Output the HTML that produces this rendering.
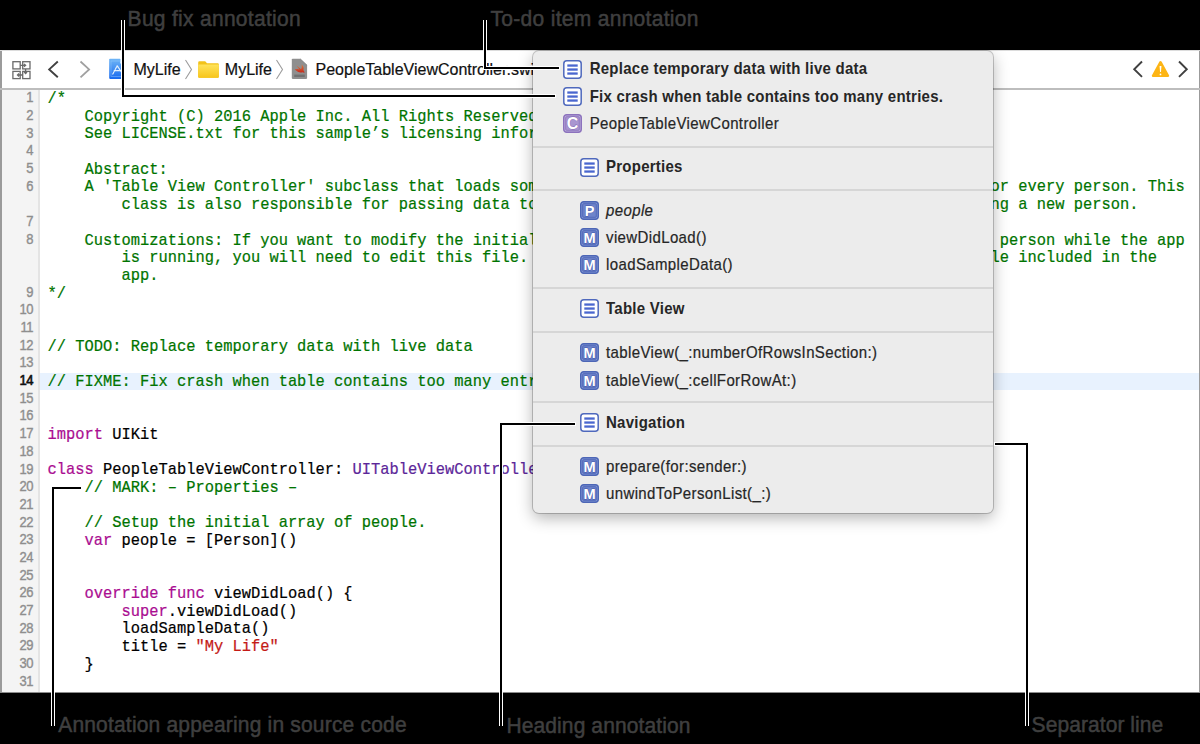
<!DOCTYPE html>
<html><head><meta charset="utf-8">
<style>
html,body{margin:0;padding:0;}
body{width:1200px;height:744px;overflow:hidden;background:#000;position:relative;font-family:"Liberation Sans",sans-serif;}
.abs{position:absolute;}
#win{position:absolute;left:0;top:50px;width:1200px;height:642px;background:#fff;overflow:hidden;}
#lb{position:absolute;left:0;top:50px;width:1.5px;height:642px;background:#9b9b9b;}
#rb{position:absolute;left:1198.5px;top:50px;width:1.5px;height:642px;background:#9b9b9b;}
#tbtop{position:absolute;left:0;top:50px;width:1200px;height:1px;background:#dcdcdc;}
#tbbot{position:absolute;left:0;top:88.2px;width:1200px;height:1.8px;background:#bdbdbd;}
#gutter{position:absolute;left:1.5px;top:90px;width:36.7px;height:602px;background:#f4f4f4;}
#gutb{position:absolute;left:38.2px;top:90px;width:1.4px;height:602px;background:#e4e4e4;}
#curline{position:absolute;left:39.6px;top:373px;width:1159px;height:17px;background:#e8f2fe;}
.row{position:absolute;left:47.5px;height:17.676px;line-height:17.676px;font-family:"Liberation Mono",monospace;font-size:15.41px;white-space:pre;transform:scaleY(1.1);transform-origin:0 13px;-webkit-text-stroke:0.2px currentColor;margin-top:0.9px;}
.ln{position:absolute;left:1.5px;width:31.5px;-webkit-text-stroke:0.35px currentColor;transform:scaleY(1.08);transform-origin:0 13px;text-align:right;height:17.676px;line-height:17.676px;font-size:13px;letter-spacing:-0.5px;color:#8e8e8e;margin-top:-0.9px;}
.ln.cur{color:#111;-webkit-text-stroke:0.6px #111;}
.tb{position:absolute;font-size:16px;color:#111;line-height:19px;-webkit-text-stroke:0.2px #111;}
#pop{position:absolute;left:532.6px;top:51.2px;width:460.8px;height:461.8px;background:#ececec;border-radius:6px;box-shadow:0 0 0 1px rgba(0,0,0,0.2),0 5px 16px rgba(0,0,0,0.3);}
.sep{position:absolute;left:533px;width:460px;height:2px;background:#d6d6d6;}
.pi{position:absolute;font-size:15px;letter-spacing:0.38px;color:#262626;line-height:19px;white-space:pre;transform:scaleY(1.06);transform-origin:0 14.46px;-webkit-text-stroke:0.2px #262626;}
.pi.b{font-weight:bold;letter-spacing:0.25px;-webkit-text-stroke:0;}
.pi.i{font-style:italic;}
.ic{position:absolute;width:19px;height:19px;}
.lab{position:absolute;font-size:21px;color:#3f3f3f;white-space:pre;line-height:24px;transform:scaleY(1.02);transform-origin:0 19.94px;-webkit-text-stroke:0.5px #3f3f3f;}
.al{position:absolute;background:#000;}
.aw{position:absolute;background:#fff;}
</style></head><body>
<div id="win"></div>
<div id="lb"></div><div id="rb"></div>
<div id="tbtop"></div>
<div class="abs" style="left:0;top:692px;width:1200px;height:1px;background:#8c8c8c"></div>
<div id="tbbot"></div>
<div id="gutter"></div>
<div class="ln" style="top:90.20px">1</div>
<div class="ln" style="top:107.88px">2</div>
<div class="ln" style="top:125.55px">3</div>
<div class="ln" style="top:143.23px">4</div>
<div class="ln" style="top:160.90px">5</div>
<div class="ln" style="top:178.58px">6</div>
<div class="ln" style="top:213.93px">7</div>
<div class="ln" style="top:231.61px">8</div>
<div class="ln" style="top:284.64px">9</div>
<div class="ln" style="top:302.31px">10</div>
<div class="ln" style="top:319.99px">11</div>
<div class="ln" style="top:337.66px">12</div>
<div class="ln" style="top:355.34px">13</div>
<div class="ln cur" style="top:373.02px">14</div>
<div class="ln" style="top:390.69px">15</div>
<div class="ln" style="top:408.37px">16</div>
<div class="ln" style="top:426.04px">17</div>
<div class="ln" style="top:443.72px">18</div>
<div class="ln" style="top:461.40px">19</div>
<div class="ln" style="top:479.07px">20</div>
<div class="ln" style="top:496.75px">21</div>
<div class="ln" style="top:514.42px">22</div>
<div class="ln" style="top:532.10px">23</div>
<div class="ln" style="top:549.78px">24</div>
<div class="ln" style="top:567.45px">25</div>
<div class="ln" style="top:585.13px">26</div>
<div class="ln" style="top:602.80px">27</div>
<div class="ln" style="top:620.48px">28</div>
<div class="ln" style="top:638.16px">29</div>
<div class="ln" style="top:655.83px">30</div>
<div class="ln" style="top:673.51px">31</div>
<div id="gutb"></div>
<div id="curline"></div>
<div class="row" style="top:90.20px"><span style="color:#007400">/*</span></div>
<div class="row" style="top:107.88px"><span style="color:#007400">    Copyright (C) 2016 Apple Inc. All Rights Reserved.</span></div>
<div class="row" style="top:125.55px"><span style="color:#007400">    See LICENSE.txt for this sample’s licensing information</span></div>
<div class="row" style="top:143.23px"></div>
<div class="row" style="top:160.90px"><span style="color:#007400">    Abstract:</span></div>
<div class="row" style="top:178.58px"><span style="color:#007400">    A &#x27;Table View Controller&#x27; subclass that loads some sample data and displays a table view cell f anor every person. This</span></div>
<div class="row" style="top:196.26px"><span style="color:#007400">        class is also responsible for passing data to the detail view and for addi and displays a tablng a new person.</span></div>
<div class="row" style="top:213.93px"></div>
<div class="row" style="top:231.61px"><span style="color:#007400">    Customizations: If you want to modify the initial data, or add a and displays a table view cell f  person while the app</span></div>
<div class="row" style="top:249.28px"><span style="color:#007400">        is running, you will need to edit this file. See the README fi and displays a table view cell le included in the</span></div>
<div class="row" style="top:266.96px"><span style="color:#007400">        app.</span></div>
<div class="row" style="top:284.64px"><span style="color:#007400">*/</span></div>
<div class="row" style="top:302.31px"></div>
<div class="row" style="top:319.99px"></div>
<div class="row" style="top:337.66px"><span style="color:#007400">// TODO: Replace temporary data with live data</span></div>
<div class="row" style="top:355.34px"></div>
<div class="row" style="top:373.02px"><span style="color:#007400">// FIXME: Fix crash when table contains too many entries.</span></div>
<div class="row" style="top:390.69px"></div>
<div class="row" style="top:408.37px"></div>
<div class="row" style="top:426.04px"><span style="color:#aa0d91">import</span><span style="color:#000"> UIKit</span></div>
<div class="row" style="top:443.72px"></div>
<div class="row" style="top:461.40px"><span style="color:#aa0d91">class</span><span style="color:#000"> PeopleTableViewController: </span><span style="color:#5c2699">UITableViewController</span><span style="color:#000"> {</span></div>
<div class="row" style="top:479.07px"><span style="color:#007400">    // MARK: – Properties –</span></div>
<div class="row" style="top:496.75px"></div>
<div class="row" style="top:514.42px"><span style="color:#007400">    // Setup the initial array of people.</span></div>
<div class="row" style="top:532.10px"><span style="color:#000">    </span><span style="color:#aa0d91">var</span><span style="color:#000"> people = [Person]()</span></div>
<div class="row" style="top:549.78px"></div>
<div class="row" style="top:567.45px"></div>
<div class="row" style="top:585.13px"><span style="color:#000">    </span><span style="color:#aa0d91">override</span><span style="color:#000"> </span><span style="color:#aa0d91">func</span><span style="color:#000"> viewDidLoad() {</span></div>
<div class="row" style="top:602.80px"><span style="color:#000">        </span><span style="color:#aa0d91">super</span><span style="color:#000">.viewDidLoad()</span></div>
<div class="row" style="top:620.48px"><span style="color:#000">        loadSampleData()</span></div>
<div class="row" style="top:638.16px"><span style="color:#000">        title = </span><span style="color:#c41a16">&quot;My Life&quot;</span></div>
<div class="row" style="top:655.83px"><span style="color:#000">    }</span></div>
<div class="row" style="top:673.51px"></div>

<!-- toolbar -->
<svg class="abs" style="left:11px;top:60px" width="20" height="20" viewBox="0 0 20 20">
 <g fill="none" stroke="#6a6a6a" stroke-width="1.3">
  <rect x="1.9" y="1.7" width="7.3" height="7.2"/>
  <rect x="11.7" y="1.7" width="7.3" height="7.2"/>
  <rect x="1.9" y="11.4" width="7.3" height="7.2"/>
  <rect x="11.7" y="11.4" width="7.3" height="7.2"/>
  <path d="M9.2 5.3H14.5M13 3.9l1.6 1.4-1.6 1.4"/>
  <path d="M14.6 8.9V13.4M13.2 12l1.4 1.6 1.4-1.6"/>
  <path d="M11.7 15H6.6M8 13.6l-1.5 1.4 1.5 1.4"/>
 </g>
</svg>
<svg class="abs" style="left:47px;top:60px" width="14" height="19" viewBox="0 0 14 19"><path d="M10.8 1.5L2.2 9.4l8.6 7.9" fill="none" stroke="#404040" stroke-width="1.9"/></svg>
<svg class="abs" style="left:78px;top:60px" width="14" height="19" viewBox="0 0 14 19"><path d="M2.5 1.5l8.6 7.9-8.6 7.9" fill="none" stroke="#a0a0a0" stroke-width="1.8"/></svg>
<svg class="abs" style="left:108px;top:58px" width="18" height="22" viewBox="0 0 18 22">
 <defs><linearGradient id="ag" x1="0" y1="0" x2="0" y2="1"><stop offset="0" stop-color="#6fb6f6"/><stop offset="1" stop-color="#1769ef"/></linearGradient></defs>
 <path d="M1.2 1.6Q1.2 0.8 2 0.8H12L16.8 5.6V20.1Q16.8 20.9 16 20.9H2Q1.2 20.9 1.2 20.1Z" fill="url(#ag)"/>
 <path d="M12 0.8V5.6H16.8Z" fill="#cfe6fb"/>
 <rect x="3" y="3" width="12" height="15.5" fill="none" stroke="#9fd0fb" stroke-width="0.7" opacity="0.6"/>
 <path d="M4.8 16L9.2 7.8M9.2 7.8L13.6 14.2M6.2 12.6H15" stroke="#e6f3ff" stroke-width="1.2" fill="none" stroke-linecap="round" stroke-dasharray="2 0.8"/>
</svg>
<div class="tb" style="left:133.5px;top:59.8px">MyLife</div>
<svg class="abs" style="left:184px;top:59px" width="10" height="21" viewBox="0 0 10 21"><path d="M1.5 1l6 9.5-6 9.5" fill="none" stroke="#9c9c9c" stroke-width="1.1"/></svg>
<svg class="abs" style="left:197px;top:60px" width="23" height="19" viewBox="0 0 23 19">
 <defs><linearGradient id="fg" x1="0" y1="0" x2="0" y2="1"><stop offset="0" stop-color="#ffe35a"/><stop offset="1" stop-color="#f7c51b"/></linearGradient></defs>
 <path d="M1.2 2.5Q1.2 1.3 2.4 1.3H8.2L10 3.2H20.8Q21.8 3.2 21.8 4.2V16.8Q21.8 17.8 20.8 17.8H2.2Q1.2 17.8 1.2 16.8Z" fill="#f2c21a"/>
 <path d="M1.2 5.6Q1.2 4.6 2.2 4.6H20.8Q21.8 4.6 21.8 5.6V16.8Q21.8 17.8 20.8 17.8H2.2Q1.2 17.8 1.2 16.8Z" fill="url(#fg)"/>
</svg>
<div class="tb" style="left:224.8px;top:59.8px">MyLife</div>
<svg class="abs" style="left:275px;top:59px" width="10" height="21" viewBox="0 0 10 21"><path d="M1.5 1l6 9.5-6 9.5" fill="none" stroke="#9c9c9c" stroke-width="1.1"/></svg>
<svg class="abs" style="left:290px;top:58px" width="19" height="22" viewBox="0 0 19 22">
 <defs><linearGradient id="sg" x1="0" y1="0" x2="0" y2="1"><stop offset="0" stop-color="#e07a3a"/><stop offset="1" stop-color="#c4221a"/></linearGradient></defs>
 <path d="M1.8 1.6Q1.8 0.8 2.6 0.8H10.2L17.1 7.2V20.1Q17.1 20.9 16.3 20.9H2.6Q1.8 20.9 1.8 20.1Z" fill="#8f8f8f"/>
 <path d="M10.2 0.8L17.1 7.2" stroke="#6f6f6f" stroke-width="0.6"/>
 <path d="M4.6 11.6Q8.6 15.2 12.4 14.2Q13.6 14.3 14.4 15.3Q14.6 13.2 13.4 11.9Q14.4 9 11.6 6.4Q12.4 9.4 11.1 11.2Q8.6 9.4 6.3 7.2Q8 9.8 9.6 11.4Q7.2 10.4 4.6 11.6Z" fill="url(#sg)"/>
 <rect x="4.2" y="16.6" width="10.6" height="2.4" fill="#5a5a5a" opacity="0.55"/>
</svg>
<div class="tb" style="left:315.5px;top:59.8px">PeopleTableViewController.swift</div>

<svg class="abs" style="left:1132px;top:60px" width="12" height="19" viewBox="0 0 12 19"><path d="M10 1.5L2.2 9.2l7.8 7.7" fill="none" stroke="#404040" stroke-width="1.9"/></svg>
<svg class="abs" style="left:1151px;top:60px" width="19" height="18" viewBox="0 0 19 18"><path d="M9.5 2.2L17 15.8H2Z" fill="#fdb515" stroke="#fdb515" stroke-width="2.4" stroke-linejoin="round"/><path d="M8.55 6.1H10.45L9.95 12.1H9.05Z" fill="#fff"/><circle cx="9.5" cy="14.4" r="0.9" fill="#fff"/></svg>
<svg class="abs" style="left:1177px;top:60px" width="12" height="19" viewBox="0 0 12 19"><path d="M2 1.5l7.8 7.7L2 16.9" fill="none" stroke="#404040" stroke-width="1.9"/></svg>

<!-- popover -->
<div id="pop"></div>
<svg class="ic" style="left:563.2px;top:59.5px" viewBox="0 0 19 19"><rect x="0.8" y="0.8" width="17.4" height="17.4" rx="3" fill="#fff" stroke="#4f69bd" stroke-width="1.5"/><rect x="4.3" y="4.4" width="10.4" height="2.3" fill="#4a67cf"/><rect x="4.3" y="8.4" width="10.4" height="2.3" fill="#4a67cf"/><rect x="4.3" y="12.4" width="10.4" height="2.3" fill="#4a67cf"/></svg>
<div class="pi b" style="left:589.7px;top:59.30px">Replace temporary data with live data</div>
<svg class="ic" style="left:563.2px;top:86.7px" viewBox="0 0 19 19"><rect x="0.8" y="0.8" width="17.4" height="17.4" rx="3" fill="#fff" stroke="#4f69bd" stroke-width="1.5"/><rect x="4.3" y="4.4" width="10.4" height="2.3" fill="#4a67cf"/><rect x="4.3" y="8.4" width="10.4" height="2.3" fill="#4a67cf"/><rect x="4.3" y="12.4" width="10.4" height="2.3" fill="#4a67cf"/></svg>
<div class="pi b" style="left:589.7px;top:86.50px">Fix crash when table contains too many entries.</div>
<svg class="ic" style="left:563.2px;top:114.0px" viewBox="0 0 19 19"><rect x="0.7" y="0.7" width="17.6" height="17.6" rx="3" fill="#b9aad9" stroke="#8c72bd" stroke-width="1.4"/><rect x="2.7" y="2.7" width="13.6" height="13.6" rx="1" fill="#a996d0" stroke="#8f77c0" stroke-width="0.9"/><text x="9.6" y="15.3" font-size="16" font-weight="bold" text-anchor="middle" fill="#fff" stroke="#7a5fb0" stroke-width="0.8" paint-order="stroke" font-family="Liberation Sans">C</text></svg>
<div class="pi" style="left:589.7px;top:113.80px">PeopleTableViewController</div>
<svg class="ic" style="left:579.6px;top:157.6px" viewBox="0 0 19 19"><rect x="0.8" y="0.8" width="17.4" height="17.4" rx="3" fill="#fff" stroke="#4f69bd" stroke-width="1.5"/><rect x="4.3" y="4.4" width="10.4" height="2.3" fill="#4a67cf"/><rect x="4.3" y="8.4" width="10.4" height="2.3" fill="#4a67cf"/><rect x="4.3" y="12.4" width="10.4" height="2.3" fill="#4a67cf"/></svg>
<div class="pi b" style="left:606.0px;top:157.40px">Properties</div>
<svg class="ic" style="left:579.6px;top:201.0px" viewBox="0 0 19 19"><rect x="0.7" y="0.7" width="17.6" height="17.6" rx="3" fill="#7d92d2" stroke="#4d66b6" stroke-width="1.4"/><rect x="2.7" y="2.7" width="13.6" height="13.6" rx="1" fill="#6e84ca" stroke="#4f66b8" stroke-width="0.9"/><text x="9.6" y="14.8" font-size="14.6" font-weight="bold" text-anchor="middle" fill="#fff" stroke="#3f55a8" stroke-width="0.8" paint-order="stroke" font-family="Liberation Sans">P</text></svg>
<div class="pi i" style="left:606.0px;top:200.80px">people</div>
<svg class="ic" style="left:579.6px;top:228.4px" viewBox="0 0 19 19"><rect x="0.7" y="0.7" width="17.6" height="17.6" rx="3" fill="#7d92d2" stroke="#4d66b6" stroke-width="1.4"/><rect x="2.7" y="2.7" width="13.6" height="13.6" rx="1" fill="#6e84ca" stroke="#4f66b8" stroke-width="0.9"/><text x="9.6" y="14.8" font-size="14.6" font-weight="bold" text-anchor="middle" fill="#fff" stroke="#3f55a8" stroke-width="0.8" paint-order="stroke" font-family="Liberation Sans">M</text></svg>
<div class="pi" style="left:606.0px;top:228.20px">viewDidLoad()</div>
<svg class="ic" style="left:579.6px;top:255.4px" viewBox="0 0 19 19"><rect x="0.7" y="0.7" width="17.6" height="17.6" rx="3" fill="#7d92d2" stroke="#4d66b6" stroke-width="1.4"/><rect x="2.7" y="2.7" width="13.6" height="13.6" rx="1" fill="#6e84ca" stroke="#4f66b8" stroke-width="0.9"/><text x="9.6" y="14.8" font-size="14.6" font-weight="bold" text-anchor="middle" fill="#fff" stroke="#3f55a8" stroke-width="0.8" paint-order="stroke" font-family="Liberation Sans">M</text></svg>
<div class="pi" style="left:606.0px;top:255.20px">loadSampleData()</div>
<svg class="ic" style="left:579.6px;top:299.2px" viewBox="0 0 19 19"><rect x="0.8" y="0.8" width="17.4" height="17.4" rx="3" fill="#fff" stroke="#4f69bd" stroke-width="1.5"/><rect x="4.3" y="4.4" width="10.4" height="2.3" fill="#4a67cf"/><rect x="4.3" y="8.4" width="10.4" height="2.3" fill="#4a67cf"/><rect x="4.3" y="12.4" width="10.4" height="2.3" fill="#4a67cf"/></svg>
<div class="pi b" style="left:606.0px;top:299.00px">Table View</div>
<svg class="ic" style="left:579.6px;top:343.3px" viewBox="0 0 19 19"><rect x="0.7" y="0.7" width="17.6" height="17.6" rx="3" fill="#7d92d2" stroke="#4d66b6" stroke-width="1.4"/><rect x="2.7" y="2.7" width="13.6" height="13.6" rx="1" fill="#6e84ca" stroke="#4f66b8" stroke-width="0.9"/><text x="9.6" y="14.8" font-size="14.6" font-weight="bold" text-anchor="middle" fill="#fff" stroke="#3f55a8" stroke-width="0.8" paint-order="stroke" font-family="Liberation Sans">M</text></svg>
<div class="pi" style="left:606.0px;top:343.10px">tableView(_:numberOfRowsInSection:)</div>
<svg class="ic" style="left:579.6px;top:371.0px" viewBox="0 0 19 19"><rect x="0.7" y="0.7" width="17.6" height="17.6" rx="3" fill="#7d92d2" stroke="#4d66b6" stroke-width="1.4"/><rect x="2.7" y="2.7" width="13.6" height="13.6" rx="1" fill="#6e84ca" stroke="#4f66b8" stroke-width="0.9"/><text x="9.6" y="14.8" font-size="14.6" font-weight="bold" text-anchor="middle" fill="#fff" stroke="#3f55a8" stroke-width="0.8" paint-order="stroke" font-family="Liberation Sans">M</text></svg>
<div class="pi" style="left:606.0px;top:370.80px">tableView(_:cellForRowAt:)</div>
<svg class="ic" style="left:579.6px;top:413.3px" viewBox="0 0 19 19"><rect x="0.8" y="0.8" width="17.4" height="17.4" rx="3" fill="#fff" stroke="#4f69bd" stroke-width="1.5"/><rect x="4.3" y="4.4" width="10.4" height="2.3" fill="#4a67cf"/><rect x="4.3" y="8.4" width="10.4" height="2.3" fill="#4a67cf"/><rect x="4.3" y="12.4" width="10.4" height="2.3" fill="#4a67cf"/></svg>
<div class="pi b" style="left:606.0px;top:413.10px">Navigation</div>
<svg class="ic" style="left:579.6px;top:457.0px" viewBox="0 0 19 19"><rect x="0.7" y="0.7" width="17.6" height="17.6" rx="3" fill="#7d92d2" stroke="#4d66b6" stroke-width="1.4"/><rect x="2.7" y="2.7" width="13.6" height="13.6" rx="1" fill="#6e84ca" stroke="#4f66b8" stroke-width="0.9"/><text x="9.6" y="14.8" font-size="14.6" font-weight="bold" text-anchor="middle" fill="#fff" stroke="#3f55a8" stroke-width="0.8" paint-order="stroke" font-family="Liberation Sans">M</text></svg>
<div class="pi" style="left:606.0px;top:456.80px">prepare(for:sender:)</div>
<svg class="ic" style="left:579.6px;top:484.0px" viewBox="0 0 19 19"><rect x="0.7" y="0.7" width="17.6" height="17.6" rx="3" fill="#7d92d2" stroke="#4d66b6" stroke-width="1.4"/><rect x="2.7" y="2.7" width="13.6" height="13.6" rx="1" fill="#6e84ca" stroke="#4f66b8" stroke-width="0.9"/><text x="9.6" y="14.8" font-size="14.6" font-weight="bold" text-anchor="middle" fill="#fff" stroke="#3f55a8" stroke-width="0.8" paint-order="stroke" font-family="Liberation Sans">M</text></svg>
<div class="pi" style="left:606.0px;top:483.80px">unwindToPersonList(_:)</div>
<div class="sep" style="top:145.50px"></div>
<div class="sep" style="top:189.00px"></div>
<div class="sep" style="top:287.40px"></div>
<div class="sep" style="top:330.60px"></div>
<div class="sep" style="top:401.00px"></div>
<div class="sep" style="top:444.70px"></div>

<!-- annotations -->
<div class="aw" style="left:121px;top:20.2px;width:4px;height:76.8px"></div>
<div class="aw" style="left:121px;top:94px;width:434.8px;height:4px"></div>
<div class="aw" style="left:483px;top:20px;width:4px;height:49px"></div>
<div class="aw" style="left:483px;top:66px;width:76.8px;height:4px"></div>
<div class="aw" style="left:51px;top:486px;width:30.8px;height:4px"></div>
<div class="aw" style="left:51px;top:487px;width:4px;height:238.60000000000002px"></div>
<div class="aw" style="left:499px;top:422px;width:76.8px;height:4px"></div>
<div class="aw" style="left:499px;top:423px;width:4px;height:302.6px"></div>
<div class="aw" style="left:994.2px;top:442px;width:34.8px;height:4px"></div>
<div class="aw" style="left:1025px;top:443px;width:4px;height:283px"></div>
<div class="al" style="left:122px;top:20.2px;width:2px;height:76.8px"></div>
<div class="al" style="left:122px;top:95px;width:433px;height:2px"></div>
<div class="al" style="left:484px;top:20px;width:2px;height:49px"></div>
<div class="al" style="left:484px;top:67px;width:75px;height:2px"></div>
<div class="al" style="left:52px;top:487px;width:29px;height:2px"></div>
<div class="al" style="left:52px;top:487px;width:2px;height:238.60000000000002px"></div>
<div class="al" style="left:500px;top:423px;width:75px;height:2px"></div>
<div class="al" style="left:500px;top:423px;width:2px;height:302.6px"></div>
<div class="al" style="left:995px;top:443px;width:33px;height:2px"></div>
<div class="al" style="left:1026px;top:443px;width:2px;height:283px"></div>
<div class="lab" style="left:127.6px;top:6.96px;letter-spacing:0.29px">Bug fix annotation</div>
<div class="lab" style="left:490.5px;top:6.96px;letter-spacing:0.3px">To-do item annotation</div>
<div class="lab" style="left:58.2px;top:712.76px;letter-spacing:0.185px">Annotation appearing in source code</div>
<div class="lab" style="left:506.5px;top:713.66px;letter-spacing:0.1px">Heading annotation</div>
<div class="lab" style="left:1031.6px;top:712.96px;letter-spacing:0.07px">Separator line</div>
</body></html>
